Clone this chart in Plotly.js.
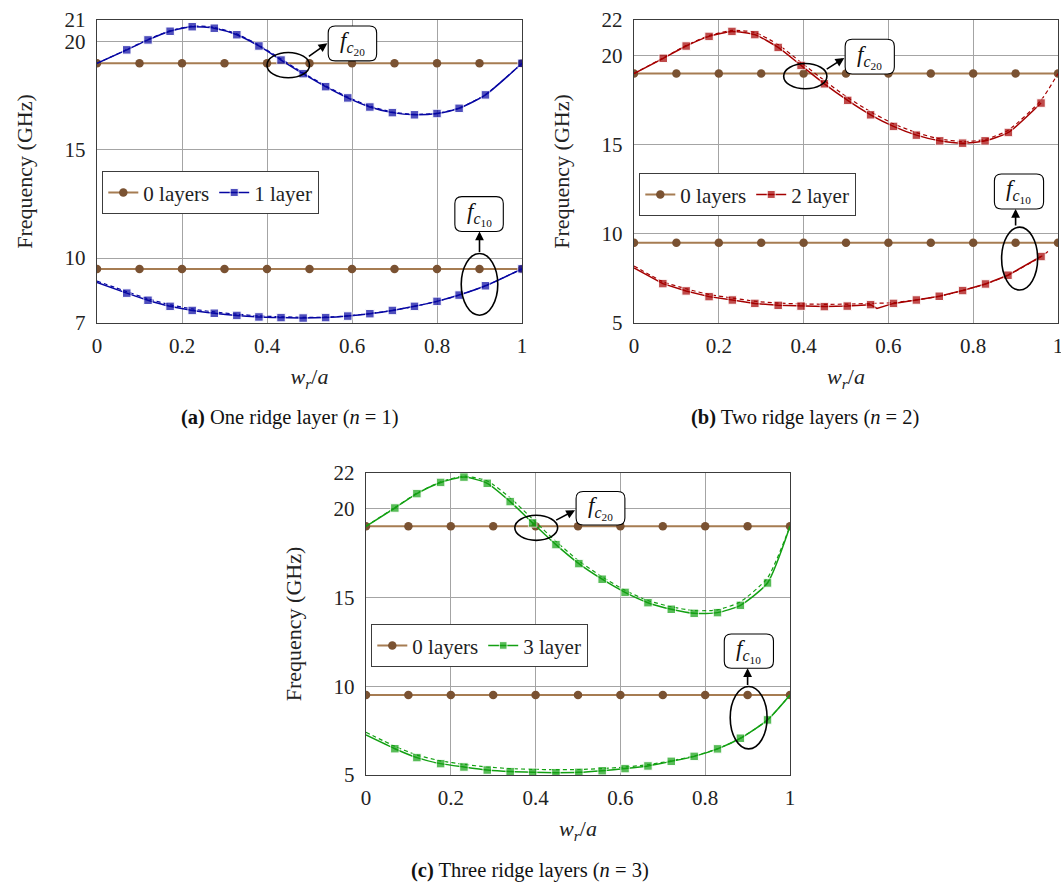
<!DOCTYPE html>
<html><head><meta charset="utf-8">
<script src="https://cdn.plot.ly/plotly-3.0.1.min.js"></script>
<style>html,body{margin:0;padding:0;background:#fff}</style>
</head><body><div id="chart" style="width:1061px;height:882px"></div>
<script>
// ---------- data ----------
const xEmpty = [0, 0.1, 0.2, 0.3, 0.4, 0.5, 0.6, 0.7, 0.8, 0.9, 1.0];
const fc20Empty = [19, 19, 19, 19, 19, 19, 19, 19, 19, 19, 19];
const fc10Empty = [9.5, 9.5, 9.5, 9.5, 9.5, 9.5, 9.5, 9.5, 9.5, 9.5, 9.5];

// (a) one ridge layer
const xA = [0, 0.070, 0.120, 0.172, 0.224, 0.276, 0.329, 0.381, 0.433, 0.485, 0.538, 0.590, 0.642, 0.695, 0.747, 0.800, 0.852, 0.914, 1.0];
const fc20A = [19.0, 19.62, 20.08, 20.48, 20.69, 20.62, 20.32, 19.80, 19.15, 18.52, 17.92, 17.40, 16.98, 16.72, 16.62, 16.68, 16.92, 17.54, 19.0];
const fc20Adash = [19.0, 19.63, 20.10, 20.50, 20.72, 20.66, 20.36, 19.84, 19.20, 18.56, 17.96, 17.44, 17.02, 16.75, 16.64, 16.69, 16.93, 17.55, 19.0];
const fc10A = [8.87, 8.38, 8.05, 7.77, 7.58, 7.45, 7.35, 7.28, 7.25, 7.23, 7.25, 7.32, 7.43, 7.58, 7.77, 8.00, 8.29, 8.72, 9.5];
const fc10Adash = [8.94, 8.45, 8.12, 7.84, 7.65, 7.51, 7.41, 7.33, 7.29, 7.26, 7.27, 7.33, 7.44, 7.58, 7.77, 8.00, 8.29, 8.72, 9.5];

// (b) two ridge layers
const xBup = [0, 0.069, 0.123, 0.177, 0.231, 0.285, 0.340, 0.394, 0.449, 0.504, 0.558, 0.612, 0.666, 0.721, 0.775, 0.828, 0.883, 0.960];
const fc20B = [19.0, 19.85, 20.54, 21.08, 21.36, 21.18, 20.46, 19.45, 18.42, 17.49, 16.68, 16.03, 15.54, 15.22, 15.09, 15.22, 15.69, 17.34];
const xBupDash = [0, 0.069, 0.123, 0.177, 0.231, 0.285, 0.340, 0.394, 0.449, 0.504, 0.558, 0.612, 0.666, 0.721, 0.775, 0.828, 0.883, 0.960, 1.0];
const fc20Bdash = [19.0, 19.87, 20.57, 21.12, 21.42, 21.30, 20.62, 19.62, 18.60, 17.65, 16.85, 16.18, 15.68, 15.33, 15.18, 15.30, 15.82, 17.50, 19.0];
const xBlo = [0, 0.068, 0.123, 0.177, 0.232, 0.285, 0.340, 0.394, 0.449, 0.503, 0.558, 0.573, 0.612, 0.666, 0.720, 0.775, 0.829, 0.882, 0.960];
const fc10B = [8.09, 7.21, 6.80, 6.48, 6.29, 6.10, 5.99, 5.95, 5.92, 5.95, 6.03, 5.82, 6.10, 6.29, 6.50, 6.82, 7.19, 7.68, 8.73];
const xBloDash = [0, 0.068, 0.123, 0.177, 0.232, 0.285, 0.340, 0.394, 0.449, 0.503, 0.558, 0.612, 0.666, 0.720, 0.775, 0.829, 0.882, 0.960, 0.982];
const fc10Bdash = [8.20, 7.32, 6.92, 6.60, 6.40, 6.22, 6.12, 6.07, 6.05, 6.06, 6.10, 6.14, 6.30, 6.50, 6.82, 7.19, 7.68, 8.73, 9.12];

// (c) three ridge layers
const xC = [0, 0.068, 0.120, 0.176, 0.231, 0.286, 0.340, 0.393, 0.448, 0.502, 0.557, 0.611, 0.665, 0.720, 0.774, 0.829, 0.883, 0.947, 1.0];
const fc20C = [19.0, 20.03, 20.84, 21.47, 21.77, 21.42, 20.39, 19.19, 17.97, 16.90, 16.02, 15.28, 14.70, 14.33, 14.10, 14.14, 14.55, 15.81, 19.0];
const fc20Cdash = [19.0, 20.05, 20.87, 21.50, 21.82, 21.55, 20.60, 19.40, 18.15, 17.05, 16.15, 15.40, 14.82, 14.47, 14.25, 14.30, 14.75, 16.10, 19.0];
const fc10C = [7.25, 6.48, 5.98, 5.64, 5.45, 5.28, 5.19, 5.15, 5.13, 5.15, 5.24, 5.36, 5.51, 5.77, 6.05, 6.47, 7.07, 8.10, 9.5];
const fc10Cdash = [7.40, 6.62, 6.12, 5.80, 5.60, 5.45, 5.36, 5.32, 5.30, 5.31, 5.36, 5.45, 5.58, 5.80, 6.07, 6.47, 7.07, 8.10, 9.5];

const xTicks = [0, 0.2, 0.4, 0.6, 0.8, 1];
const xTickText = ['0', '0.2', '0.4', '0.6', '0.8', '1'];
const yTicksA = [7, 10, 15, 20, 21];
const yTicksBC = [5, 10, 15, 20, 22];
const legendNames = ['0 layers', '1 layer', '2 layer', '3 layer'];

// ---------- styles ----------
const FONT = 'Liberation Serif';
const brownLine = '#a67c52', brownMark = '#7a5232';
const colA = '#0606a2', colB = '#a50000', colC = '#12a012';
const MS = 8.5;

const traces = [];
function emptyTraces(xa, ya, leg) {
  [fc20Empty, fc10Empty].forEach((yy, i) => traces.push({
    type: 'scatter', mode: 'lines+markers', x: xEmpty, y: yy, xaxis: xa, yaxis: ya,
    name: legendNames[0], legend: leg, showlegend: i === 0,
    line: {color: brownLine, width: 2}, marker: {symbol: 'circle', size: MS, color: brownMark}
  }));
}
function curve(x, y, xa, ya, col, leg, name, show, noMark, shape) {
  traces.push({
    type: 'scatter', mode: 'lines+markers', x: x, y: y, xaxis: xa, yaxis: ya,
    name: name, legend: leg, showlegend: show,
    line: {color: col, width: 1.5, shape: shape || 'spline', smoothing: 0.6},
    marker: {symbol: 'square', color: col, size: x.map((v, i) => noMark.includes(i) ? 0 : MS)}
  });
}
function dash(x, y, xa, ya, col) {
  traces.push({
    type: 'scatter', mode: 'lines', x: x, y: y, xaxis: xa, yaxis: ya, showlegend: false,
    line: {color: col, width: 1.2, dash: '4px,3px', shape: 'spline', smoothing: 0.6}, hoverinfo: 'skip'
  });
}

// (a)
emptyTraces('x', 'y', 'legend');
dash(xA, fc20Adash, 'x', 'y', colA);
dash(xA, fc10Adash, 'x', 'y', colA);
curve(xA, fc20A, 'x', 'y', colA, 'legend', legendNames[1], true, [0]);
curve(xA, fc10A, 'x', 'y', colA, 'legend', legendNames[1], false, [0]);
// (b)
emptyTraces('x2', 'y2', 'legend2');
dash(xBupDash, fc20Bdash, 'x2', 'y2', colB);
dash(xBloDash, fc10Bdash, 'x2', 'y2', colB);
curve(xBup, fc20B, 'x2', 'y2', colB, 'legend2', legendNames[2], true, [0]);
curve(xBlo, fc10B, 'x2', 'y2', colB, 'legend2', legendNames[2], false, [0, 11], 'linear');
// (c)
emptyTraces('x3', 'y3', 'legend3');
dash(xC, fc20Cdash, 'x3', 'y3', colC);
dash(xC, fc10Cdash, 'x3', 'y3', colC);
curve(xC, fc20C, 'x3', 'y3', colC, 'legend3', legendNames[3], true, [0, xC.length - 1]);
curve(xC, fc10C, 'x3', 'y3', colC, 'legend3', legendNames[3], false, [0, xC.length - 1]);

// ---------- layout ----------
const W = 1061, H = 882;
function xAxis(domain, anchor) {
  return {
    domain: domain, anchor: anchor, range: [0, 1], tickvals: xTicks, ticktext: xTickText,
    showgrid: true, gridcolor: '#a4a4a4', gridwidth: 1, zeroline: false, ticks: '',
    showline: true, mirror: true, linecolor: '#3c3c3c', linewidth: 1.3,
    tickfont: {family: FONT, size: 21, color: '#222'}, ticklabelstandoff: 3, ticklabeloverflow: 'allow',
    title: {text: '<i>w</i><sub><i>r</i></sub>/<i>a</i>', font: {family: FONT, size: 22, color: '#222'}, standoff: 12}
  };
}
function yAxis(domain, anchor, range, ticks) {
  return {
    domain: domain, anchor: anchor, range: range, tickvals: ticks,
    showgrid: true, gridcolor: '#a4a4a4', gridwidth: 1, zeroline: false, ticks: '',
    showline: true, mirror: true, linecolor: '#3c3c3c', linewidth: 1.3,
    tickfont: {family: FONT, size: 21, color: '#222'}, ticklabelstandoff: 6, ticklabeloverflow: 'allow',
    title: {text: 'Frequency (GHz)', font: {family: FONT, size: 22, color: '#222'}, standoff: 25}
  };
}
const dom = {
  a: {x: [97 / W, 522 / W], y: [1 - 323 / H, 1 - 20 / H], px: 425, py: 303},
  b: {x: [634 / W, 1058 / W], y: [1 - 323 / H, 1 - 20 / H], px: 424, py: 303},
  c: {x: [366 / W, 790 / W], y: [1 - 775 / H, 1 - 473 / H], px: 424, py: 302}
};
function legend(xpx, ypx) {
  return {
    x: xpx / W, y: 1 - ypx / H, xanchor: 'left', yanchor: 'top', orientation: 'h',
    bgcolor: '#fff', bordercolor: '#3c3c3c', borderwidth: 1.3,
    font: {family: FONT, size: 21, color: '#222'}, itemwidth: 30, tracegroupgap: 0
  };
}

const shapes = [], annotations = [];
function decor(xa, ya, d, yr, cfg) {
  const rx = 7 / d.px, ry = 7 * (yr[1] - yr[0]) / d.py;
  ['U', 'L'].forEach(k => {
    const e = cfg['ell' + k], b = cfg['box' + k], a = cfg['arr' + k];
    shapes.push({type: 'circle', xref: xa, yref: ya, x0: e[0], x1: e[1], y0: e[2], y1: e[3],
      line: {color: '#000', width: 1.6}});
    const [x0, x1, y0, y1] = b;
    const path = `M ${x0 + rx},${y0} L ${x1 - rx},${y0} Q ${x1},${y0} ${x1},${y0 + ry} L ${x1},${y1 - ry} Q ${x1},${y1} ${x1 - rx},${y1} L ${x0 + rx},${y1} Q ${x0},${y1} ${x0},${y1 - ry} L ${x0},${y0 + ry} Q ${x0},${y0} ${x0 + rx},${y0} Z`;
    shapes.push({type: 'path', xref: xa, yref: ya, path: path, fillcolor: '#fff', line: {color: '#000', width: 1.1}, layer: 'above'});
    annotations.push({xref: xa, yref: ya, x: (x0 + x1) / 2, y: (y0 + y1) / 2, showarrow: false,
      text: k === 'U' ? '<i>f</i><sub><i>c</i><sub>20</sub></sub>' : '<i>f</i><sub><i>c</i><sub>10</sub></sub>',
      font: {family: FONT, size: 23, color: '#111'}});
    annotations.push({xref: xa, yref: ya, axref: xa, ayref: ya, x: a[2], y: a[3], ax: a[0], ay: a[1],
      text: '', showarrow: true, arrowhead: 2, arrowsize: 1.1, arrowwidth: 1.6, arrowcolor: '#000', standoff: 0});
  });
}
decor('x', 'y', dom.a, [7, 21], {
  ellU: [0.40, 0.50, 18.33, 19.5], boxU: [0.544, 0.658, 19.11, 20.72], arrU: [0.495, 19.27, 0.542, 19.92],
  ellL: [0.857, 0.943, 7.36, 10.21], boxL: [0.842, 0.956, 11.23, 12.84], arrL: [0.9, 10.21, 0.9, 11.23]
});
decor('x2', 'y2', dom.b, [5, 22], {
  ellU: [0.353, 0.455, 18.14, 19.56], boxU: [0.498, 0.614, 18.97, 20.92], arrU: [0.451, 19.19, 0.496, 19.87],
  ellL: [0.867, 0.952, 6.85, 10.38], boxL: [0.85, 0.966, 11.40, 13.36], arrL: [0.9, 10.38, 0.9, 11.40]
});
decor('x3', 'y3', dom.c, [5, 22], {
  ellU: [0.351, 0.452, 18.21, 19.62], boxU: [0.4955, 0.6106, 19.07, 20.96], arrU: [0.445, 19.30, 0.493, 19.91],
  ellL: [0.859, 0.946, 6.47, 9.98], boxL: [0.845, 0.961, 11.01, 12.94], arrL: [0.9, 9.98, 0.9, 11.01]
});

// captions
[['<b>(a)</b> One ridge layer (<i>n</i> = 1)', 290, 418],
 ['<b>(b)</b> Two ridge layers (<i>n</i> = 2)', 805, 418],
 ['<b>(c)</b> Three ridge layers (<i>n</i> = 3)', 530, 870]].forEach(c => annotations.push({
  xref: 'paper', yref: 'paper', x: c[1] / W, y: 1 - c[2] / H, xanchor: 'center', yanchor: 'middle',
  showarrow: false, text: c[0], font: {family: FONT, size: 20.5, color: '#111'}
}));

const layout = {
  width: W, height: H, margin: {l: 0, r: 0, t: 0, b: 0}, paper_bgcolor: '#fff', plot_bgcolor: '#fff',
  showlegend: true,
  xaxis: xAxis(dom.a.x, 'y'), yaxis: yAxis(dom.a.y, 'x', [7, 21], yTicksA),
  xaxis2: xAxis(dom.b.x, 'y2'), yaxis2: yAxis(dom.b.y, 'x2', [5, 22], yTicksBC),
  xaxis3: xAxis(dom.c.x, 'y3'), yaxis3: yAxis(dom.c.y, 'x3', [5, 22], yTicksBC),
  legend: legend(102, 171), legend2: legend(639, 173), legend3: legend(371, 624),
  shapes: shapes, annotations: annotations
};
Plotly.newPlot('chart', traces, layout, {staticPlot: true, displayModeBar: false});
</script></body></html>
